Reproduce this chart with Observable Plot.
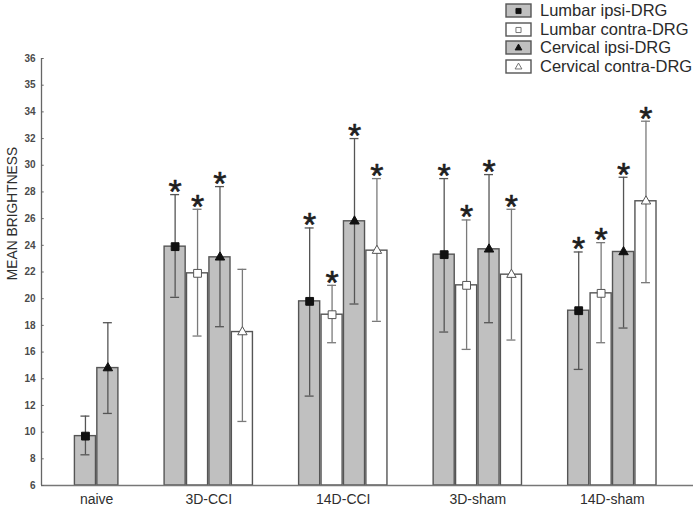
<!DOCTYPE html>
<html><head><meta charset="utf-8">
<script src="https://cdn.jsdelivr.net/npm/d3@7"></script>
<script src="https://cdn.jsdelivr.net/npm/@observablehq/plot@0.6"></script>
<style>
body{margin:0;background:#fff;font-family:"Liberation Sans",Arial,sans-serif;}
#wrap{position:relative;width:698px;height:508px;overflow:hidden;}
#legend{position:absolute;left:505px;top:1px;}
.row{display:flex;align-items:center;height:18.7px;}
.row svg{margin-right:8px;display:block}
.row span{font-size:16.5px;color:#2a2a2a;line-height:1;white-space:nowrap}
</style></head><body>
<div id="wrap"><div id="chart"></div><div id="legend"></div></div>
<script>
// ---- data ----
const groups = ["naive", "3D-CCI", "14D-CCI", "3D-sham", "14D-sham"];
const seriesNames = ["Lumbar ipsi-DRG", "Lumbar contra-DRG", "Cervical ipsi-DRG", "Cervical contra-DRG"];

const lumbarIpsi      = [9.7, 23.9, 19.8, 23.3, 19.1];
const lumbarIpsiLow   = [8.3, 20.1, 12.7, 17.5, 14.7];
const lumbarIpsiHigh  = [11.2, 27.8, 25.3, 29.0, 23.5];
const lumbarIpsiSig   = [false, true, true, true, true];

const lumbarContra     = [null, 21.9, 18.8, 21.0, 20.4];
const lumbarContraLow  = [null, 17.2, 16.7, 16.2, 16.7];
const lumbarContraHigh = [null, 26.7, 21.0, 25.9, 24.2];
const lumbarContraSig  = [false, true, true, true, true];

const cervicalIpsi     = [14.8, 23.1, 25.8, 23.7, 23.5];
const cervicalIpsiLow  = [11.4, 17.9, 19.6, 18.2, 17.8];
const cervicalIpsiHigh = [18.2, 28.4, 32.0, 29.3, 29.1];
const cervicalIpsiSig  = [false, true, true, true, true];

const cervicalContra     = [null, 17.5, 23.6, 21.8, 27.3];
const cervicalContraLow  = [null, 10.8, 18.3, 16.9, 21.2];
const cervicalContraHigh = [null, 22.2, 29.0, 26.7, 33.3];
const cervicalContraSig  = [false, false, true, true, true];

const yTickValues = [6, 8, 10, 12, 14, 16, 18, 20, 22, 24, 26, 28, 30, 32, 34, 36, 38];
const yTickLabels = ["6", "8", "10", "12", "14", "16", "18", "20", "22", "24", "26", "28", "30", "32", "34", "35", "36"];

// ---- build table ----
const means = [lumbarIpsi, lumbarContra, cervicalIpsi, cervicalContra];
const lows = [lumbarIpsiLow, lumbarContraLow, cervicalIpsiLow, cervicalContraLow];
const highs = [lumbarIpsiHigh, lumbarContraHigh, cervicalIpsiHigh, cervicalContraHigh];
const sigs = [lumbarIpsiSig, lumbarContraSig, cervicalIpsiSig, cervicalContraSig];

const SLOTS_PER_GROUP = 6, BARS = 4;
const rows = [];
const labelPos = [];
groups.forEach((g, gi) => {
  const present = seriesNames.map((s, si) => si).filter(si => means[si][gi] != null);
  const start = gi * SLOTS_PER_GROUP + (BARS - present.length);
  present.forEach((si, k) => {
    rows.push({
      group: g, series: seriesNames[si], si,
      slot: start + k,
      mean: means[si][gi], low: lows[si][gi], high: highs[si][gi], sig: sigs[si][gi]
    });
  });
  labelPos.push(start + present.length / 2);
});

const isIpsi = si => si === 0 || si === 2;
const isSquare = si => si < 2;
const xDomain = [0.54, 29.62];

const chart = Plot.plot({
  width: 698, height: 508,
  marginLeft: 41, marginRight: 5, marginTop: 58, marginBottom: 23,
  style: {fontFamily: "'Liberation Sans', Arial, sans-serif", background: "white", overflow: "visible"},
  x: {type: "linear", domain: xDomain, axis: null},
  y: {domain: [6, 38], axis: null},
  marks: [
    // bars
    Plot.rect(rows, {
      x1: d => d.slot + 0.03, x2: d => d.slot + 0.97, y1: 6, y2: "mean",
      fill: d => isIpsi(d.si) ? "#c0c0c0" : "#ffffff",
      stroke: "#555", strokeWidth: 1.4
    }),
    // error bars
    Plot.ruleX(rows, {x: d => d.slot + 0.5, y1: "low", y2: "high",
      stroke: d => isIpsi(d.si) ? "#555" : "#7a7a7a", strokeWidth: 1.3}),
    Plot.ruleY(rows, {y: "high", x1: d => d.slot + 0.3, x2: d => d.slot + 0.7,
      stroke: d => isIpsi(d.si) ? "#555" : "#7a7a7a", strokeWidth: 1.3}),
    Plot.ruleY(rows, {y: "low", x1: d => d.slot + 0.3, x2: d => d.slot + 0.7,
      stroke: d => isIpsi(d.si) ? "#555" : "#7a7a7a", strokeWidth: 1.3}),
    // markers
    Plot.dot(rows.filter(d => isSquare(d.si)), {x: d => d.slot + 0.5, y: "mean", symbol: "square", r: 4.4,
      fill: d => isIpsi(d.si) ? "#111" : "#fff", stroke: d => isIpsi(d.si) ? "#111" : "#555", strokeWidth: 1}),
    Plot.dot(rows.filter(d => !isSquare(d.si)), {x: d => d.slot + 0.5, y: "mean", symbol: "triangle", r: 3.5,
      fill: d => isIpsi(d.si) ? "#111" : "#fff", stroke: d => isIpsi(d.si) ? "#111" : "#555", strokeWidth: 1}),
    // significance asterisks
    Plot.text(rows.filter(d => d.sig), {x: d => d.slot + 0.5, y: "high", text: () => "*",
      fontSize: 34, fill: "#1e1e1e", stroke: "#1e1e1e", strokeWidth: 0.6, dy: -2.5}),
    // axes lines
    Plot.ruleY([6], {stroke: "#777", strokeWidth: 1.3}),
    Plot.ruleX([xDomain[0]], {y1: 6, y2: 38, stroke: "#666", strokeWidth: 1.3}),
    Plot.ruleY(yTickValues, {x1: xDomain[0], x2: xDomain[0] + 0.12, stroke: "#666"}),
    Plot.axisY({ticks: yTickValues, tickFormat: d => yTickLabels[yTickValues.indexOf(d)],
      tickSize: 0, tickPadding: 6, fontSize: 10, fontWeight: "bold", color: "#4a4a4a", label: null}),
    Plot.axisX({ticks: labelPos, tickFormat: d => groups[labelPos.indexOf(d)],
      tickSize: 0, tickPadding: 9, fontSize: 14, color: "#2e2e2e", label: null}),
    // y title
    Plot.text(["MEAN BRIGHTNESS"], {frameAnchor: "top-left", rotate: -90, dx: -34.5, dy: 155,
      fontSize: 13.8, fill: "#2e2e2e", textAnchor: "middle"})
  ]
});
document.getElementById("chart").appendChild(chart);

// ---- legend ----
const legend = document.getElementById("legend");
seriesNames.forEach((name, si) => {
  const row = document.createElement("div");
  row.className = "row";
  const ns = "http://www.w3.org/2000/svg";
  const svg = document.createElementNS(ns, "svg");
  svg.setAttribute("width", 27); svg.setAttribute("height", 15);
  const r = document.createElementNS(ns, "rect");
  r.setAttribute("x", 1); r.setAttribute("y", 1); r.setAttribute("width", 25); r.setAttribute("height", 13);
  r.setAttribute("fill", isIpsi(si) ? "#c0c0c0" : "#fff");
  r.setAttribute("stroke", "#555"); r.setAttribute("stroke-width", 1.4);
  svg.appendChild(r);
  const m = document.createElementNS(ns, "path");
  const sym = isSquare(si) ? d3.symbolSquare : d3.symbolTriangle;
  m.setAttribute("d", d3.symbol(sym, isSquare(si) ? 26 : 20)());
  m.setAttribute("transform", "translate(13.5,8)");
  m.setAttribute("fill", isIpsi(si) ? "#111" : "#fff");
  m.setAttribute("stroke", isIpsi(si) ? "#111" : "#666");
  m.setAttribute("stroke-width", 0.9);
  svg.appendChild(m);
  row.appendChild(svg);
  const t = document.createElement("span");
  t.textContent = name;
  row.appendChild(t);
  legend.appendChild(row);
});
</script>
</body></html>
